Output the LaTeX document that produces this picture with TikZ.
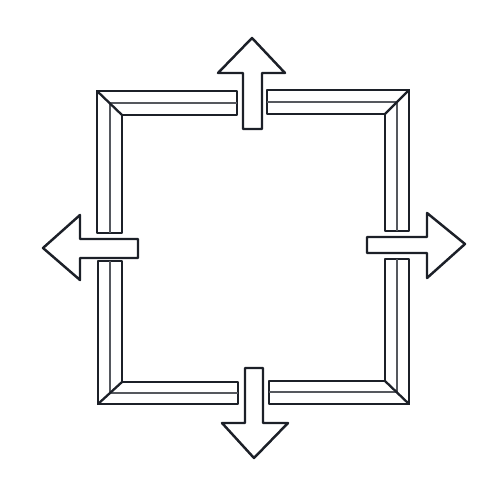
\documentclass[tikz,border=0pt]{standalone}
\usetikzlibrary{positioning}
\definecolor{ink}{RGB}{28,32,40}
\tikzset{
  barline/.style={line width=1.3pt, draw=ink, line join=round, line cap=round},
  midline/.style={line width=0.8pt, draw=ink!75},
  arrowbody/.style={line width=1.4pt, draw=ink, fill=white, line join=round}
}

\begin{document}
\begin{tikzpicture}[x=0.02cm,y=-0.02cm]
\useasboundingbox (0,0) rectangle (500,500);

% frame, top left piece
\draw[barline](237,91)--(97,91)--(97,233)--(122,233)--(122,115)--(237,115)--cycle;
\draw[midline](237,103)--(110,103)--(110,233);
\draw[barline](97,91)--(122,115);

% top right piece
\draw[barline](267,90)--(409,90)--(409,231)--(385,231)--(385,114)--(267,114)--cycle;
\draw[midline](267,102)--(397,102)--(397,231);
\draw[barline](409,90)--(385,114);

% bottom left piece
\draw[barline](98,261)--(98,404)--(238,404)--(238,382)--(122,382)--(122,261)--cycle;
\draw[midline](110,261)--(110,393)--(238,393);
\draw[barline](98,404)--(122,382);

% bottom right piece
\draw[barline](269,404)--(409,404)--(409,259)--(385,259)--(385,381)--(269,381)--cycle;
\draw[midline](397,259)--(397,392)--(269,392);
\draw[barline](409,404)--(385,381);

% arrows
\draw[arrowbody](243,129)--(243,73)--(218,73)--(252,38)--(285,73)--(262,73)--(262,129)--cycle;
\draw[arrowbody](138,239)--(80,239)--(80,215)--(43,248)--(80,280)--(80,258)--(138,258)--cycle;
\draw[arrowbody](367,237)--(427,237)--(427,213)--(465,244)--(427,278)--(427,253)--(367,253)--cycle;
\draw[arrowbody](245,368)--(245,423)--(222,423)--(254,458)--(288,423)--(263,423)--(263,368)--cycle;
\end{tikzpicture}
\end{document}
